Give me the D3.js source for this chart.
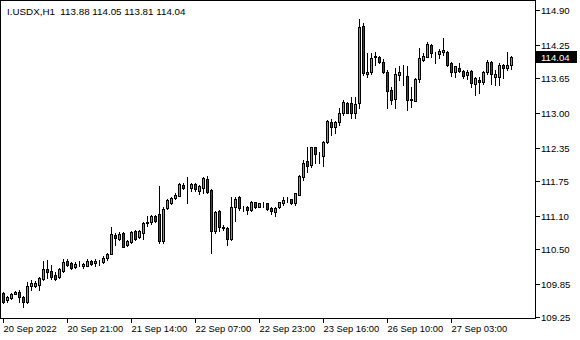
<!DOCTYPE html>
<html><head><meta charset="utf-8">
<script src="https://cdn.jsdelivr.net/npm/d3@7"></script>
<style>
html,body{margin:0;padding:0;background:#fff;}
svg{display:block;}
text{font-family:"Liberation Sans",Arial,sans-serif;}
</style></head>
<body>
<svg id="c" width="580" height="340"></svg>
<script>
const symbol = "I.USDX,H1";
const lastOHLC = [113.88, 114.05, 113.81, 114.04];
const open  = [109.69,109.55,109.59,109.67,109.70,109.61,109.53,109.81,109.82,109.83,109.95,110.12,110.10,110.02,109.98,110.10,110.28,110.24,110.17,110.23,110.18,110.19,110.28,110.24,110.26,110.26,110.33,110.41,110.76,110.69,110.79,110.58,110.63,110.82,110.72,110.79,110.97,110.99,111.10,111.15,110.65,111.25,111.34,111.43,111.48,111.68,111.63,111.62,111.70,111.57,111.63,111.79,111.59,110.82,111.20,110.90,110.89,110.69,111.28,111.45,111.26,111.28,111.22,111.36,111.28,111.32,111.34,111.26,111.18,111.27,111.34,111.42,111.42,111.35,111.50,111.82,112.11,112.05,112.37,112.25,112.21,112.46,112.84,112.74,112.83,113.00,113.18,113.18,113.00,113.18,114.61,113.72,113.76,114.03,114.03,113.95,113.76,113.43,113.26,113.70,113.72,113.69,113.25,113.23,113.62,113.98,114.04,114.26,114.11,114.09,114.12,114.13,113.92,113.75,113.84,113.78,113.70,113.78,113.54,113.61,113.57,113.76,113.94,113.66,113.66,113.89,113.83,113.88];
const high  = [109.71,109.63,109.68,109.72,109.75,109.63,109.89,109.92,109.90,109.99,110.27,110.30,110.21,110.07,110.15,110.31,110.32,110.26,110.25,110.28,110.24,110.32,110.30,110.31,110.30,110.36,110.42,110.90,110.80,110.81,110.81,110.67,110.83,110.85,110.85,111.00,111.10,111.13,111.13,111.66,111.27,111.42,111.46,111.53,111.72,111.71,111.83,111.72,111.72,111.68,111.83,111.85,111.61,111.20,111.22,110.94,110.91,111.46,111.46,111.48,111.29,111.29,111.39,111.37,111.35,111.36,111.35,111.27,111.27,111.37,111.45,111.46,111.42,111.53,111.86,112.14,112.38,112.38,112.38,112.29,112.49,112.88,112.89,112.86,113.09,113.24,113.21,113.30,113.30,114.73,114.66,114.10,114.10,114.13,114.05,113.99,113.80,113.49,113.83,113.86,113.89,113.86,113.49,113.65,114.20,114.10,114.31,114.27,114.13,114.18,114.39,114.15,113.94,113.87,113.93,113.80,113.80,113.80,113.67,113.67,113.78,113.97,113.96,113.80,113.92,113.91,114.13,114.05];
const low   = [109.51,109.53,109.58,109.66,109.52,109.43,109.51,109.75,109.80,109.75,109.93,109.96,109.95,109.92,109.96,110.08,110.19,110.13,110.15,110.19,110.15,110.18,110.21,110.19,110.21,110.24,110.30,110.40,110.58,110.67,110.53,110.56,110.61,110.67,110.70,110.69,110.92,110.96,111.00,110.61,110.61,111.24,111.33,111.42,111.47,111.60,111.35,111.57,111.57,111.51,111.53,111.53,110.43,110.80,110.82,110.85,110.58,110.67,111.02,111.22,111.19,111.15,111.20,111.25,111.27,111.27,111.22,111.14,111.11,111.26,111.30,111.37,111.33,111.31,111.49,111.77,111.92,112.01,112.08,112.08,112.02,112.45,112.59,112.63,112.78,112.97,113.00,112.91,112.91,113.09,113.70,113.67,113.72,113.89,113.92,113.74,113.10,113.17,113.09,113.61,113.52,113.06,113.12,113.22,113.58,113.96,114.03,114.04,113.93,114.01,114.08,113.86,113.69,113.67,113.75,113.64,113.62,113.49,113.34,113.37,113.54,113.73,113.53,113.52,113.52,113.64,113.80,113.81];
const close = [109.53,109.61,109.66,109.70,109.61,109.53,109.82,109.87,109.87,109.96,110.13,110.07,109.99,109.95,110.12,110.26,110.21,110.15,110.23,110.23,110.23,110.28,110.23,110.27,110.26,110.34,110.41,110.78,110.70,110.78,110.54,110.64,110.81,110.69,110.82,110.97,111.00,111.10,111.02,110.65,111.23,111.40,111.43,111.50,111.70,111.63,111.63,111.70,111.60,111.65,111.81,111.55,110.82,111.18,110.91,110.89,110.68,111.28,111.42,111.25,111.26,111.22,111.37,111.28,111.34,111.33,111.24,111.19,111.26,111.36,111.40,111.42,111.34,111.53,111.85,112.09,112.03,112.37,112.25,112.25,112.46,112.86,112.74,112.84,113.01,113.20,113.01,113.00,113.17,114.59,113.74,113.76,114.01,114.05,113.94,113.76,113.41,113.24,113.72,113.75,113.72,113.24,113.26,113.62,114.01,114.05,114.27,114.11,114.11,114.15,114.16,113.89,113.75,113.86,113.78,113.69,113.76,113.55,113.64,113.57,113.76,113.94,113.72,113.72,113.89,113.84,113.89,114.04];
const priceTicks = [114.90,114.25,113.65,113.00,112.35,111.75,111.10,110.50,109.85,109.25];
const timeTickIndex = [0,16,32,48,64,80,96,112];
const timeTickLabels = ["20 Sep 2022","20 Sep 21:00","21 Sep 14:00","22 Sep 07:00","22 Sep 23:00","23 Sep 16:00","26 Sep 10:00","27 Sep 03:00"];

const svg = d3.select("#c");
const plotR = 535, plotB = 318;
const x = d3.scaleLinear().domain([0, open.length-1]).range([3.5, 3.5 + 4*(open.length-1)]);
const y = d3.scaleLinear().domain([109.25, 114.90]).range([316.7, 10]);

// frame
svg.append("path").attr("d", `M0.5,0.5H${plotR+0.5}V${plotB+0.5}H0.5Z`)
  .attr("fill","none").attr("stroke","#000").attr("shape-rendering","crispEdges");

// candles
const data = open.map((o,i)=>({i,o,h:high[i],l:low[i],c:close[i]}));
const g = svg.append("g").attr("shape-rendering","crispEdges");
g.selectAll("line.w").data(data).join("line")
  .attr("x1",d=>x(d.i)).attr("x2",d=>x(d.i))
  .attr("y1",d=>Math.round(y(d.h))).attr("y2",d=>Math.round(y(d.l))+1)
  .attr("stroke","#000");
g.selectAll("rect.b").data(data).join("rect")
  .attr("x",d=>x(d.i)-1).attr("width",2)
  .attr("y",d=>Math.round(y(Math.max(d.o,d.c)))+0.5)
  .attr("height",d=>Math.max(0, Math.round(y(Math.min(d.o,d.c))) - Math.round(y(Math.max(d.o,d.c)))))
  .attr("fill",d=>d.c>=d.o ? "#33cc33" : "#dd0000")
  .attr("stroke","#000");

// price axis
const ya = svg.append("g");
priceTicks.forEach(p=>{
  const yy = Math.round(y(p))+0.5;
  ya.append("line").attr("x1",plotR+1).attr("x2",plotR+5).attr("y1",yy).attr("y2",yy)
    .attr("stroke","#000").attr("shape-rendering","crispEdges");
  ya.append("text").attr("x",plotR+6).attr("y",yy+3.5).attr("font-size",9.6).attr("fill","#000").text(p.toFixed(2));
});
// current price box
const cy = Math.round(y(lastOHLC[3]));
svg.append("rect").attr("x",plotR+1).attr("y",cy-6).attr("width",41).attr("height",12).attr("fill","#000");
svg.append("text").attr("x",plotR+6).attr("y",cy+3.5).attr("font-size",9.6).attr("fill","#fff").text(lastOHLC[3].toFixed(2));

// time axis
timeTickIndex.forEach((ti,k)=>{
  const xx = Math.floor(x(ti))+0.5;
  svg.append("line").attr("x1",xx).attr("x2",xx).attr("y1",plotB+1).attr("y2",plotB+5)
    .attr("stroke","#000").attr("shape-rendering","crispEdges");
  svg.append("text").attr("x",xx).attr("y",plotB+14).attr("font-size",9.4).attr("fill","#000").text(timeTickLabels[k]);
});

// title
svg.append("text").attr("x",7).attr("y",15).attr("font-size",9.8).attr("fill","#000")
  .style("white-space","pre").text(symbol + "  " + lastOHLC.map(v=>v.toFixed(2)).join(" "));
</script>
</body></html>
